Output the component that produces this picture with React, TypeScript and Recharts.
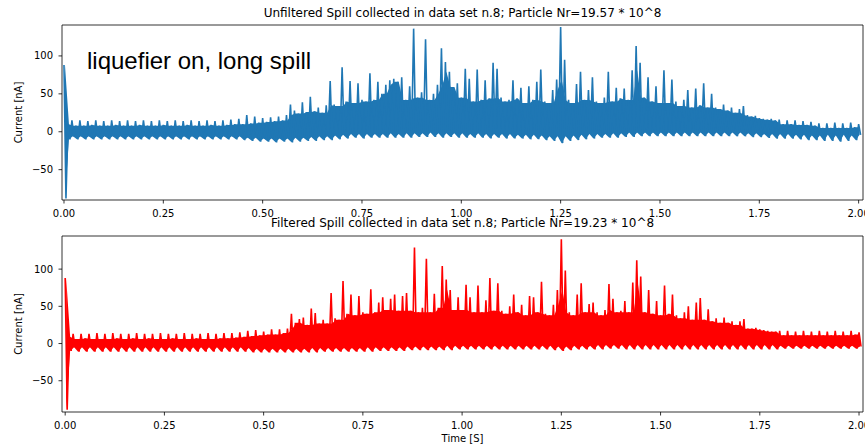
import React from 'react';
import { ComposedChart, Line, Area, XAxis, YAxis, ReferenceArea } from 'recharts';

// peak-per-bin envelope, one bin every 10 ms (0.00 .. 2.00 s)
const BIN = 0.01;

const unfilteredHigh = [
    88, 10, 15, 8, 15, 8, 14, 9, 15, 8,
    14, 8, 15, 9, 14, 8, 15, 8, 14, 9,
    15, 8, 14, 8, 15, 9, 14, 8, 15, 8,
    14, 9, 15, 8, 14, 8, 15, 9, 14, 8,
    15, 9, 16, 10, 17, 10, 22, 11, 20, 12,
    18, 13, 19, 14, 20, 15, 22, 36, 28, 24,
    39, 26, 46, 27, 32, 25, 35, 67, 36, 34,
    85, 40, 67, 38, 64, 42, 40, 77, 42, 66,
    50, 62, 68, 70, 66, 72, 42, 60, 136, 45,
    52, 122, 42, 50, 62, 110, 92, 79, 59, 64,
    45, 83, 70, 40, 82, 42, 68, 44, 91, 83,
    45, 40, 42, 68, 44, 58, 38, 60, 42, 66,
    82, 40, 38, 55, 69, 138, 95, 42, 38, 63,
    79, 42, 55, 72, 40, 38, 45, 79, 40, 58,
    44, 57, 42, 81, 113, 91, 45, 72, 40, 60,
    38, 81, 38, 69, 40, 34, 42, 55, 32, 57,
    35, 64, 32, 50, 32, 30, 36, 28, 32, 25,
    30, 34, 22, 20, 21, 18, 17, 16, 17, 15,
    16, 10, 15, 10, 15, 9, 14, 9, 13, 8,
    11, 5, 11, 5, 12, 5, 11, 5, 12, 6,
    10,
];

const unfilteredLow = [
    -88, -10, -6, -10, -6, -10, -6, -10, -6, -10,
    -6, -10, -6, -10, -6, -10, -6, -10, -6, -10,
    -6, -10, -6, -10, -6, -10, -6, -10, -6, -10,
    -6, -10, -6, -10, -6, -10, -6, -10, -6, -10,
    -6, -10, -6, -10, -6, -11, -8, -12, -8, -13,
    -9, -13, -9, -14, -9, -13, -9, -14, -8, -13,
    -8, -12, -7, -12, -6, -11, -6, -11, -5, -10,
    -4, -9, -3, -8, -3, -9, -3, -8, -3, -8,
    -3, -8, -2, -8, -3, -8, -2, -8, -2, -7,
    -2, -7, -1, -7, -2, -8, -2, -7, -2, -8,
    -2, -8, -3, -8, -2, -8, -3, -9, -3, -8,
    -3, -9, -3, -9, -4, -9, -4, -10, -4, -10,
    -5, -11, -6, -12, -6, -15, -6, -12, -5, -11,
    -4, -10, -3, -9, -3, -8, -3, -8, -2, -8,
    -2, -7, -1, -7, -1, -6, -1, -6, -1, -6,
    -1, -6, -1, -6, -1, -6, -1, -6, -1, -6,
    -1, -6, -1, -6, -1, -6, -1, -6, -1, -6,
    -1, -6, -2, -7, -2, -7, -3, -8, -3, -9,
    -3, -9, -3, -9, -4, -10, -4, -11, -5, -11,
    -5, -12, -4, -12, -5, -13, -4, -12, -5, -11,
    -4,
];

const filteredHigh = [
    88, 9, 13, 6, 13, 7, 13, 6, 14, 6,
    13, 6, 14, 7, 13, 6, 13, 7, 14, 6,
    13, 7, 13, 6, 14, 6, 13, 7, 13, 6,
    14, 6, 13, 7, 13, 6, 14, 6, 13, 7,
    14, 7, 14, 8, 15, 9, 17, 10, 18, 11,
    16, 12, 19, 12, 19, 14, 20, 40, 28, 33,
    35, 25, 47, 41, 27, 32, 27, 68, 34, 32,
    84, 40, 66, 38, 64, 42, 40, 73, 42, 55,
    62, 45, 60, 66, 44, 64, 68, 44, 129, 42,
    48, 114, 42, 67, 48, 104, 86, 72, 45, 62,
    45, 79, 62, 42, 78, 42, 58, 88, 44, 81,
    44, 40, 50, 66, 42, 52, 38, 64, 62, 42,
    83, 40, 38, 52, 72, 140, 98, 42, 38, 66,
    81, 42, 53, 55, 42, 38, 45, 80, 60, 42,
    44, 57, 42, 82, 112, 90, 42, 72, 40, 57,
    38, 78, 40, 66, 38, 34, 42, 50, 32, 55,
    61, 32, 46, 30, 34, 28, 35, 28, 30, 25,
    30, 33, 20, 20, 21, 19, 18, 17, 16, 16,
    17, 11, 17, 11, 16, 11, 17, 11, 16, 11,
    17, 11, 16, 11, 17, 11, 16, 11, 17, 12,
    15,
];

const filteredLow = [
    -89, -10, -5, -11, -5, -11, -5, -11, -5, -11,
    -5, -11, -5, -11, -5, -11, -5, -11, -5, -11,
    -5, -11, -5, -11, -5, -11, -5, -11, -5, -11,
    -5, -11, -5, -11, -5, -11, -5, -11, -5, -11,
    -5, -11, -5, -11, -5, -11, -6, -12, -7, -12,
    -7, -12, -7, -12, -7, -12, -7, -12, -7, -12,
    -7, -12, -6, -12, -6, -11, -6, -11, -6, -11,
    -6, -11, -6, -11, -6, -11, -5, -11, -5, -10,
    -5, -10, -5, -10, -5, -10, -4, -9, -4, -9,
    -4, -9, -4, -9, -4, -9, -3, -9, -3, -8,
    -3, -8, -3, -8, -3, -8, -3, -8, -3, -8,
    -3, -8, -3, -8, -3, -8, -3, -8, -3, -8,
    -3, -8, -3, -9, -4, -10, -4, -9, -3, -8,
    -3, -8, -3, -8, -2, -8, -2, -7, -2, -7,
    -2, -8, -2, -8, -2, -8, -2, -8, -2, -8,
    -2, -8, -2, -8, -2, -8, -2, -8, -2, -8,
    -2, -8, -2, -8, -2, -8, -2, -8, -2, -8,
    -2, -8, -2, -8, -2, -8, -2, -8, -2, -8,
    -3, -7, -3, -7, -3, -7, -3, -7, -3, -7,
    -3, -7, -3, -7, -3, -7, -3, -7, -3, -7,
    -4,
];

const timeTicks = [0, 0.25, 0.5, 0.75, 1.0, 1.25, 1.5, 1.75, 2.0];
const currentTicks = [-50, 0, 50, 100];

const titles = [
    'Unfiltered Spill collected in data set n.8; Particle Nr=19.57 * 10^8',
    'Filtered Spill collected in data set n.8; Particle Nr=19.23 * 10^8',
];

type Pt = { t: number; v: number };
type BandPt = { t: number; band: [number, number] };

// zigzag: bin max at the bin start, bin min half a bin later
const buildTrace = (high: number[], low: number[]) => {
    const pts: Pt[] = [];
    high.forEach((h, i) => {
        pts.push({ t: i * BIN, v: h });
        pts.push({ t: i * BIN + BIN / 2, v: low[i] });
    });
    return pts;
};

// solid core of the trace: from the bin min up to the lowest neighbouring peak
// (the first bin is the switch-on burst, kept full height)
const buildBand = (high: number[], low: number[]) => {
    const pts: BandPt[] = [];
    high.forEach((h, i) => {
        const nb = [high[i - 1], h, high[i + 1]].filter((x) => x !== undefined) as number[];
        const top = i === 0 ? h : Math.min(...nb);
        pts.push({ t: i * BIN + BIN / 4, band: [low[i], top] });
    });
    return pts;
};

const fmtY = (v: number) => (v < 0 ? '\u2212' + Math.abs(v) : String(v));
const tickStyle = { fontSize: 10, fill: '#000', fontFamily: 'DejaVu Sans' };

interface PanelProps {
    trace: Pt[];
    band: BandPt[];
    color: string;
    xDomain: [number, number];
    yDomain: [number, number];
    plotHeight: number;
}

const Panel: React.FC<PanelProps> = ({ trace, band, color, xDomain, yDomain, plotHeight }) => (
    <ComposedChart
        width={865}
        height={25 + plotHeight + 30}
        margin={{ top: 25, right: 2, bottom: 0, left: 0 }}
    >
        <XAxis
            type="number"
            dataKey="t"
            domain={xDomain}
            ticks={timeTicks}
            interval={0}
            allowDataOverflow
            height={30}
            axisLine={false}
            tickSize={3.5}
            tickMargin={6.5}
            tickLine={{ stroke: '#000', strokeWidth: 0.8 }}
            tick={tickStyle}
            tickFormatter={(v: number) => v.toFixed(2)}
        />
        <YAxis
            type="number"
            domain={yDomain}
            ticks={currentTicks}
            interval={0}
            allowDataOverflow
            width={62}
            axisLine={false}
            tickSize={3.5}
            tickMargin={5.5}
            tickLine={{ stroke: '#000', strokeWidth: 0.8 }}
            tick={tickStyle}
            tickFormatter={fmtY}
        />
        <Area
            data={band}
            type="linear"
            dataKey="band"
            stroke="none"
            fill={color}
            fillOpacity={1}
            isAnimationActive={false}
        />
        <Line
            data={trace}
            type="linear"
            dataKey="v"
            stroke={color}
            strokeWidth={1.6}
            dot={false}
            isAnimationActive={false}
        />
        <ReferenceArea
            x1={xDomain[0]}
            x2={xDomain[1]}
            y1={yDomain[0]}
            y2={yDomain[1]}
            fill="none"
            fillOpacity={0}
            stroke="#000"
            strokeWidth={0.8}
        />
    </ComposedChart>
);

const App: React.FC = () => {
    const topTrace = buildTrace(unfilteredHigh, unfilteredLow);
    const topBand = buildBand(unfilteredHigh, unfilteredLow);
    const bottomTrace = buildTrace(filteredHigh, filteredLow);
    const bottomBand = buildBand(filteredHigh, filteredLow);

    return (
        <div style={{ position: 'absolute', left: 0, top: 0, width: 865, height: 446, background: '#fff' }}>
            <div style={{ position: 'absolute', left: 0, top: 0 }}>
                <Panel trace={topTrace} band={topBand} color="#1f77b4" xDomain={[-0.005, 2.011]} yDomain={[-90, 140.8]} plotHeight={175} />
            </div>
            <div style={{ position: 'absolute', left: 0, top: 211 }}>
                <Panel trace={bottomTrace} band={bottomBand} color="#ff0000" xDomain={[-0.008, 2.01]} yDomain={[-92, 144.5]} plotHeight={176} />
            </div>
            <svg
                width={865}
                height={446}
                style={{ position: 'absolute', left: 0, top: 0, pointerEvents: 'none' }}
                fontFamily="DejaVu Sans"
            >
                <text x={462.5} y={16.5} fontSize={12} textAnchor="middle" fill="#000">{titles[0]}</text>
                <text x={462.5} y={227} fontSize={12} textAnchor="middle" fill="#000">{titles[1]}</text>
                <text x={87} y={68.5} fontSize={24} fontFamily="Liberation Sans" fill="#000">liquefier on, long spill</text>
                <text x={22} y={112.5} fontSize={10} textAnchor="middle" fill="#000" transform="rotate(-90 22 112.5)">Current [nA]</text>
                <text x={22} y={324} fontSize={10} textAnchor="middle" fill="#000" transform="rotate(-90 22 324)">Current [nA]</text>
                <text x={462.5} y={442} fontSize={10} textAnchor="middle" fill="#000">Time [S]</text>
            </svg>
        </div>
    );
};

export default App;
